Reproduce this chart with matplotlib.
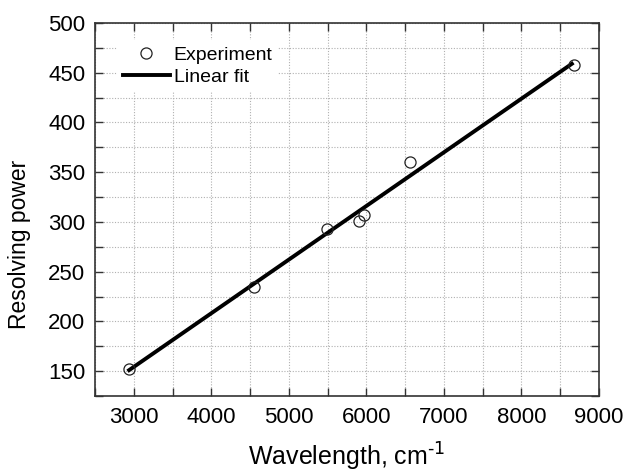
import matplotlib.pyplot as plt
from matplotlib.ticker import MultipleLocator

# ---------------------------------------------------------
# Data
# ---------------------------------------------------------
wavelength = [2938, 4554, 5496, 5909, 5973, 6559, 8677]
resolving = [152, 235, 293, 301, 307, 360, 458]

fit_x = [2940, 8650]
fit_y = [151, 459]

plt.rcParams["font.family"] = ["Liberation Sans", "DejaVu Sans"]

# ---------------------------------------------------------
# Plot
# ---------------------------------------------------------
fig = plt.figure(figsize=(6.28, 4.74), dpi=100)
ax = fig.add_axes([95 / 628, 78 / 474, 504 / 628, 373 / 474])

ax.plot(wavelength, resolving, "o", mfc="none", mec="#222222", ms=8,
        mew=0.9, label="Experiment", zorder=3)
ax.plot(fit_x, fit_y, color="black", lw=2.8, label="Linear fit", zorder=2)

ax.set_xlim(2500, 9000)
ax.set_ylim(125, 500)
ax.xaxis.set_major_locator(MultipleLocator(1000))
ax.xaxis.set_minor_locator(MultipleLocator(500))
ax.yaxis.set_major_locator(MultipleLocator(50))
ax.yaxis.set_minor_locator(MultipleLocator(25))

ax.grid(which="both", color="#b0b0b0", linestyle=(0, (1, 1.5)), linewidth=0.8)
ax.set_axisbelow(True)

ax.tick_params(which="both", direction="in", top=True, right=True,
               length=6, width=1, color="#333333", labelsize=16)
ax.tick_params(axis="x", pad=8)
ax.tick_params(axis="y", pad=7)
for s in ax.spines.values():
    s.set_color("#333333")
    s.set_linewidth(1.2)

ax.set_xlabel("Wavelength, cm$^{\\text{-1}}$", fontsize=18)
ax.xaxis.set_label_coords(0.5, -0.12)
ax.set_ylabel("Resolving power", fontsize=16.5)
ax.yaxis.set_label_coords(-0.127, 0.406)

leg = ax.legend(loc="upper left", fontsize=14, frameon=True, framealpha=1,
                edgecolor="none", borderpad=0.3, handlelength=2.4,
                handletextpad=0.2, labelspacing=0.25,
                bbox_to_anchor=(0.025, 0.98))

fig.savefig("out.png", dpi=100)
